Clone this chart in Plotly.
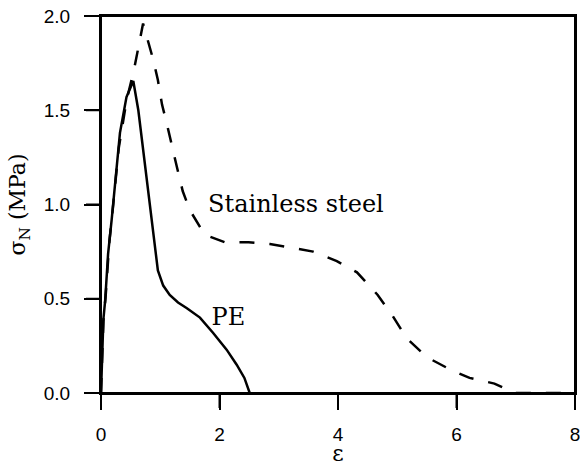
import plotly.graph_objects as go

# Normal stress vs. strain for the two specimens
pe_strain = [0, 0.02, 0.04, 0.07, 0.12, 0.18, 0.24, 0.32, 0.43, 0.545, 0.63, 0.74,
             0.855, 0.91, 0.96, 1.05, 1.16, 1.30, 1.45, 1.67, 1.89, 2.12, 2.29, 2.42, 2.51]
pe_stress = [0, 0.20, 0.39, 0.49, 0.74, 0.92, 1.12, 1.38, 1.57, 1.655, 1.50, 1.22,
             0.92, 0.78, 0.65, 0.57, 0.52, 0.48, 0.45, 0.40, 0.32, 0.23, 0.15, 0.08, 0.0]

steel_strain = [0, 0.04, 0.08, 0.14, 0.2, 0.3, 0.43, 0.56, 0.71, 0.88, 0.96, 1.03, 1.11,
                1.20, 1.28, 1.38, 1.50, 1.75, 2.09, 2.49, 2.85, 3.24, 3.58, 3.98, 4.32,
                4.67, 4.92, 5.16, 5.50, 5.92, 6.22, 6.64, 6.98, 7.4, 7.9]
steel_stress = [0, 0.38, 0.52, 0.80, 0.98, 1.30, 1.55, 1.72, 1.96, 1.77, 1.66, 1.53, 1.43,
                1.30, 1.20, 1.07, 0.97, 0.84, 0.80, 0.80, 0.79, 0.77, 0.75, 0.70, 0.64,
                0.52, 0.41, 0.29, 0.19, 0.12, 0.08, 0.05, 0.0, 0.0, 0.0]

x_ticks = [0, 2, 4, 6, 8]
y_ticks = [0.0, 0.5, 1.0, 1.5, 2.0]

# curve labels and where they sit in data space
curve_labels = ["Stainless steel", "PE"]
label_x = [3.29, 2.15]
label_y = [0.99, 0.39]

SANS = "Arial"
SERIF = "DejaVu Serif"

W, H = 580, 466
M = dict(l=101, r=5, t=16, b=73)
PLOT_W = W - M["l"] - M["r"]
PLOT_H = H - M["t"] - M["b"]
TICK_LEN = 15

fig = go.Figure()
fig.add_trace(go.Scatter(x=steel_strain, y=steel_stress, mode="lines",
                         line=dict(color="black", width=2.5, dash="longdash")))
fig.add_trace(go.Scatter(x=pe_strain, y=pe_stress, mode="lines",
                         line=dict(color="black", width=2.5)))
fig.add_trace(go.Scatter(x=label_x, y=label_y, mode="text", text=curve_labels,
                         textposition="middle center", hoverinfo="skip",
                         textfont=dict(family=SERIF, size=24, color="black")))

tick_font = dict(family=SANS, size=19, color="black")
frame = dict(showgrid=False, zeroline=False, showline=True, linecolor="black",
             linewidth=2, mirror=True, ticks="outside", ticklen=TICK_LEN, tickwidth=2,
             tickcolor="black", tickfont=tick_font, automargin=False,
             ticklabeloverflow="allow")

fig.update_xaxes(range=[0, 8], tickmode="array", tickvals=x_ticks,
                 ticktext=[str(v) for v in x_ticks], ticklabelstandoff=8,
                 title=dict(text="ε", standoff=4,
                            font=dict(family=SERIF, size=22, color="black")),
                 **frame)
fig.update_yaxes(range=[0, 2], tickmode="array", tickvals=y_ticks,
                 ticktext=[f"{v:.1f}" for v in y_ticks], ticklabelstandoff=10,
                 title=dict(text="σ<sub>N</sub> (MPa)", standoff=12,
                            font=dict(family=SERIF, size=22, color="black")),
                 **frame)

# Box frame and outward ticks as layout shapes, keyed to the same tick values
edge = dict(color="black", width=2)
fig.add_shape(type="rect", xref="paper", yref="paper", x0=0, x1=1, y0=0, y1=1,
              line=edge, layer="above")
for v in x_ticks:
    fig.add_shape(type="line", xref="x", yref="paper", x0=v, x1=v,
                  y0=0, y1=-TICK_LEN / PLOT_H, line=edge, layer="above")
for v in y_ticks:
    fig.add_shape(type="line", xref="paper", yref="y", x0=0, x1=-TICK_LEN / PLOT_W,
                  y0=v, y1=v, line=edge, layer="above")

fig.update_layout(width=W, height=H, margin=M, plot_bgcolor="white", showlegend=False)

fig.write_html("out.html")
